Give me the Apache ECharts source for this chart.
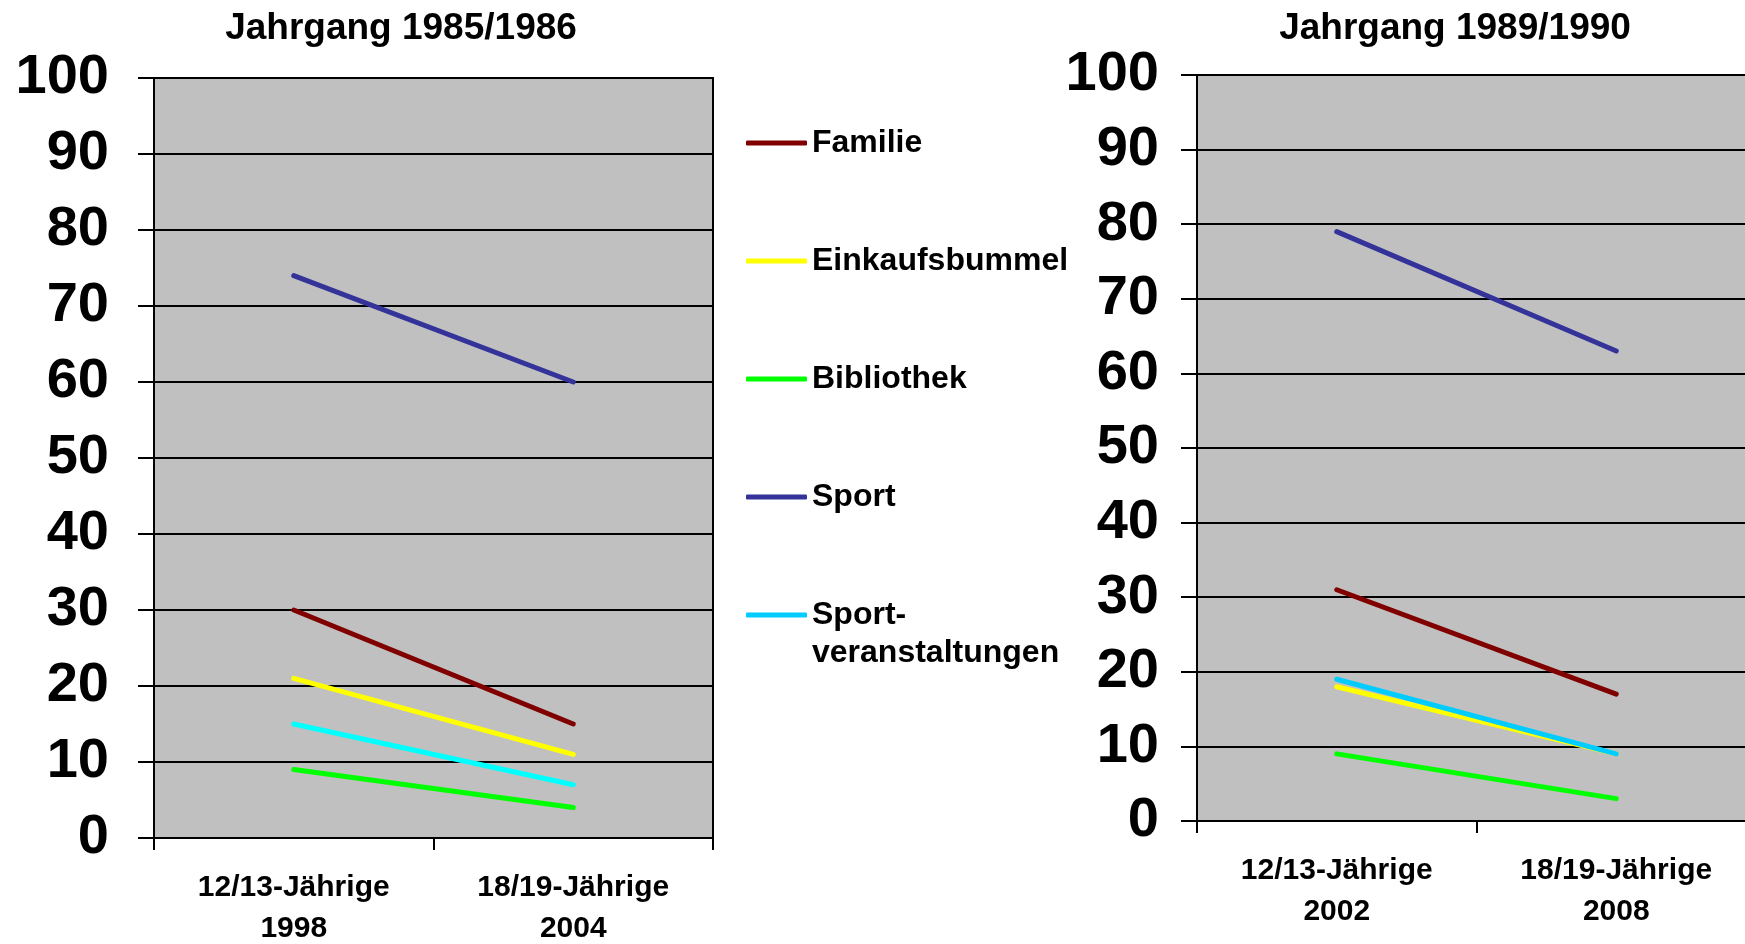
<!DOCTYPE html>
<html>
<head>
<meta charset="utf-8">
<script src="https://cdn.jsdelivr.net/npm/echarts@6/dist/echarts.min.js"></script>
<style>
html,body{margin:0;padding:0;background:#fff;}
#c{width:1745px;height:944px;}
</style>
</head>
<body>
<div id="c"></div>
<script>
// ---- data ----
var titleLeft = 'Jahrgang 1985/1986';
var titleRight = 'Jahrgang 1989/1990';
var categoriesLeft = ['12/13-Jährige\n1998', '18/19-Jährige\n2004'];
var categoriesRight = ['12/13-Jährige\n2002', '18/19-Jährige\n2008'];
var seriesNames = ['Familie', 'Einkaufsbummel', 'Bibliothek', 'Sport', 'Sport-\nveranstaltungen'];
var yTicks = [0, 10, 20, 30, 40, 50, 60, 70, 80, 90, 100];

var familieLeft = [30, 15];
var einkaufLeft = [21, 11];
var bibliothekLeft = [9, 4];
var sportLeft = [74, 60];
var sportVerLeft = [15, 7];

var familieRight = [31, 17];
var einkaufRight = [18, 9];
var bibliothekRight = [9, 3];
var sportRight = [79, 63];
var sportVerRight = [19, 9];

var colorsLeft = ['#800000', '#FFFF00', '#00FF00', '#333399', '#00FFFF'];
var colorsRight = ['#800000', '#FFFF00', '#00FF00', '#333399', '#00CCFF'];
var legendColors = ['#800000', '#FFFF00', '#00FF00', '#333399', '#00CCFF'];

var leftData = [familieLeft, einkaufLeft, bibliothekLeft, sportLeft, sportVerLeft];
var rightData = [familieRight, einkaufRight, bibliothekRight, sportRight, sportVerRight];

// ---- chart ----
var FONT = '"Liberation Sans", Arial, sans-serif';
var chart = echarts.init(document.getElementById('c'));

function yAxis(gridIndex, margin) {
  return {
    type: 'value', gridIndex: gridIndex, min: yTicks[0], max: yTicks[yTicks.length - 1], interval: 10,
    axisLine: {show: true, lineStyle: {color: '#000', width: 2}},
    axisTick: {show: true, inside: false, length: 16, lineStyle: {color: '#000', width: 2}},
    splitLine: {show: true, lineStyle: {color: '#000', width: 2}},
    axisLabel: {color: '#000', fontFamily: FONT, fontWeight: 'bold', fontSize: 56, margin: margin}
  };
}
function xAxis(gridIndex, cats) {
  return {
    type: 'category', gridIndex: gridIndex, data: cats, boundaryGap: true,
    axisLine: {show: true, lineStyle: {color: '#000', width: 2}},
    axisTick: {show: true, length: 12, lineStyle: {color: '#000', width: 2}},
    axisLabel: {color: '#000', fontFamily: FONT, fontWeight: 'bold', fontSize: 30, lineHeight: 41, margin: 29}
  };
}

var series = [];
seriesNames.forEach(function (n, i) {
  series.push({
    name: n, type: 'line', xAxisIndex: 0, yAxisIndex: 0, data: leftData[i],
    symbol: 'none', silent: true, animation: false,
    lineStyle: {color: colorsLeft[i], width: 5, cap: 'round'}, itemStyle: {color: colorsLeft[i]}
  });
});
seriesNames.forEach(function (n, i) {
  series.push({
    name: n, type: 'line', xAxisIndex: 1, yAxisIndex: 1, data: rightData[i],
    symbol: 'none', silent: true, animation: false,
    lineStyle: {color: colorsRight[i], width: 5, cap: 'round'}, itemStyle: {color: colorsRight[i]}
  });
});

var legendText = {color: '#000', fontFamily: FONT, fontWeight: 'bold', fontSize: 32, lineHeight: 38};

chart.setOption({
  animation: false,
  backgroundColor: '#fff',
  title: [
    {text: titleLeft, left: 396, top: 5, textAlign: 'center',
     textStyle: {color: '#000', fontFamily: FONT, fontWeight: 'bold', fontSize: 37}},
    {text: titleRight, left: 1450, top: 5, textAlign: 'center',
     textStyle: {color: '#000', fontFamily: FONT, fontWeight: 'bold', fontSize: 37}}
  ],
  legend: [
    {
      orient: 'vertical', left: 741, top: 119, itemGap: 80, itemWidth: 61, itemHeight: 5,
      icon: 'roundRect', textStyle: legendText, selectedMode: false,
      data: seriesNames.slice(0, 4).map(function (n, i) { return {name: n, itemStyle: {color: legendColors[i]}}; })
    },
    {
      orient: 'vertical', left: 741, top: 553, itemGap: 0, itemWidth: 61, itemHeight: 5,
      icon: 'roundRect', selectedMode: false, textStyle: legendText,
      formatter: function (name) { return ' \n' + name; },
      data: [{name: seriesNames[4], itemStyle: {color: legendColors[4]}}]
    }
  ],
  grid: [
    {left: 154, right: 1032, top: 78, bottom: 106, show: true, backgroundColor: '#C0C0C0', borderColor: '#000', borderWidth: 2, containLabel: false, outerBoundsMode: 'none'},
    {left: 1197, right: -11, top: 75, bottom: 123, show: true, backgroundColor: '#C0C0C0', borderColor: '#000', borderWidth: 2, containLabel: false, outerBoundsMode: 'none'}
  ],
  xAxis: [xAxis(0, categoriesLeft), xAxis(1, categoriesRight)],
  yAxis: [yAxis(0, 45), yAxis(1, 38)],
  series: series
});
</script>
</body>
</html>
